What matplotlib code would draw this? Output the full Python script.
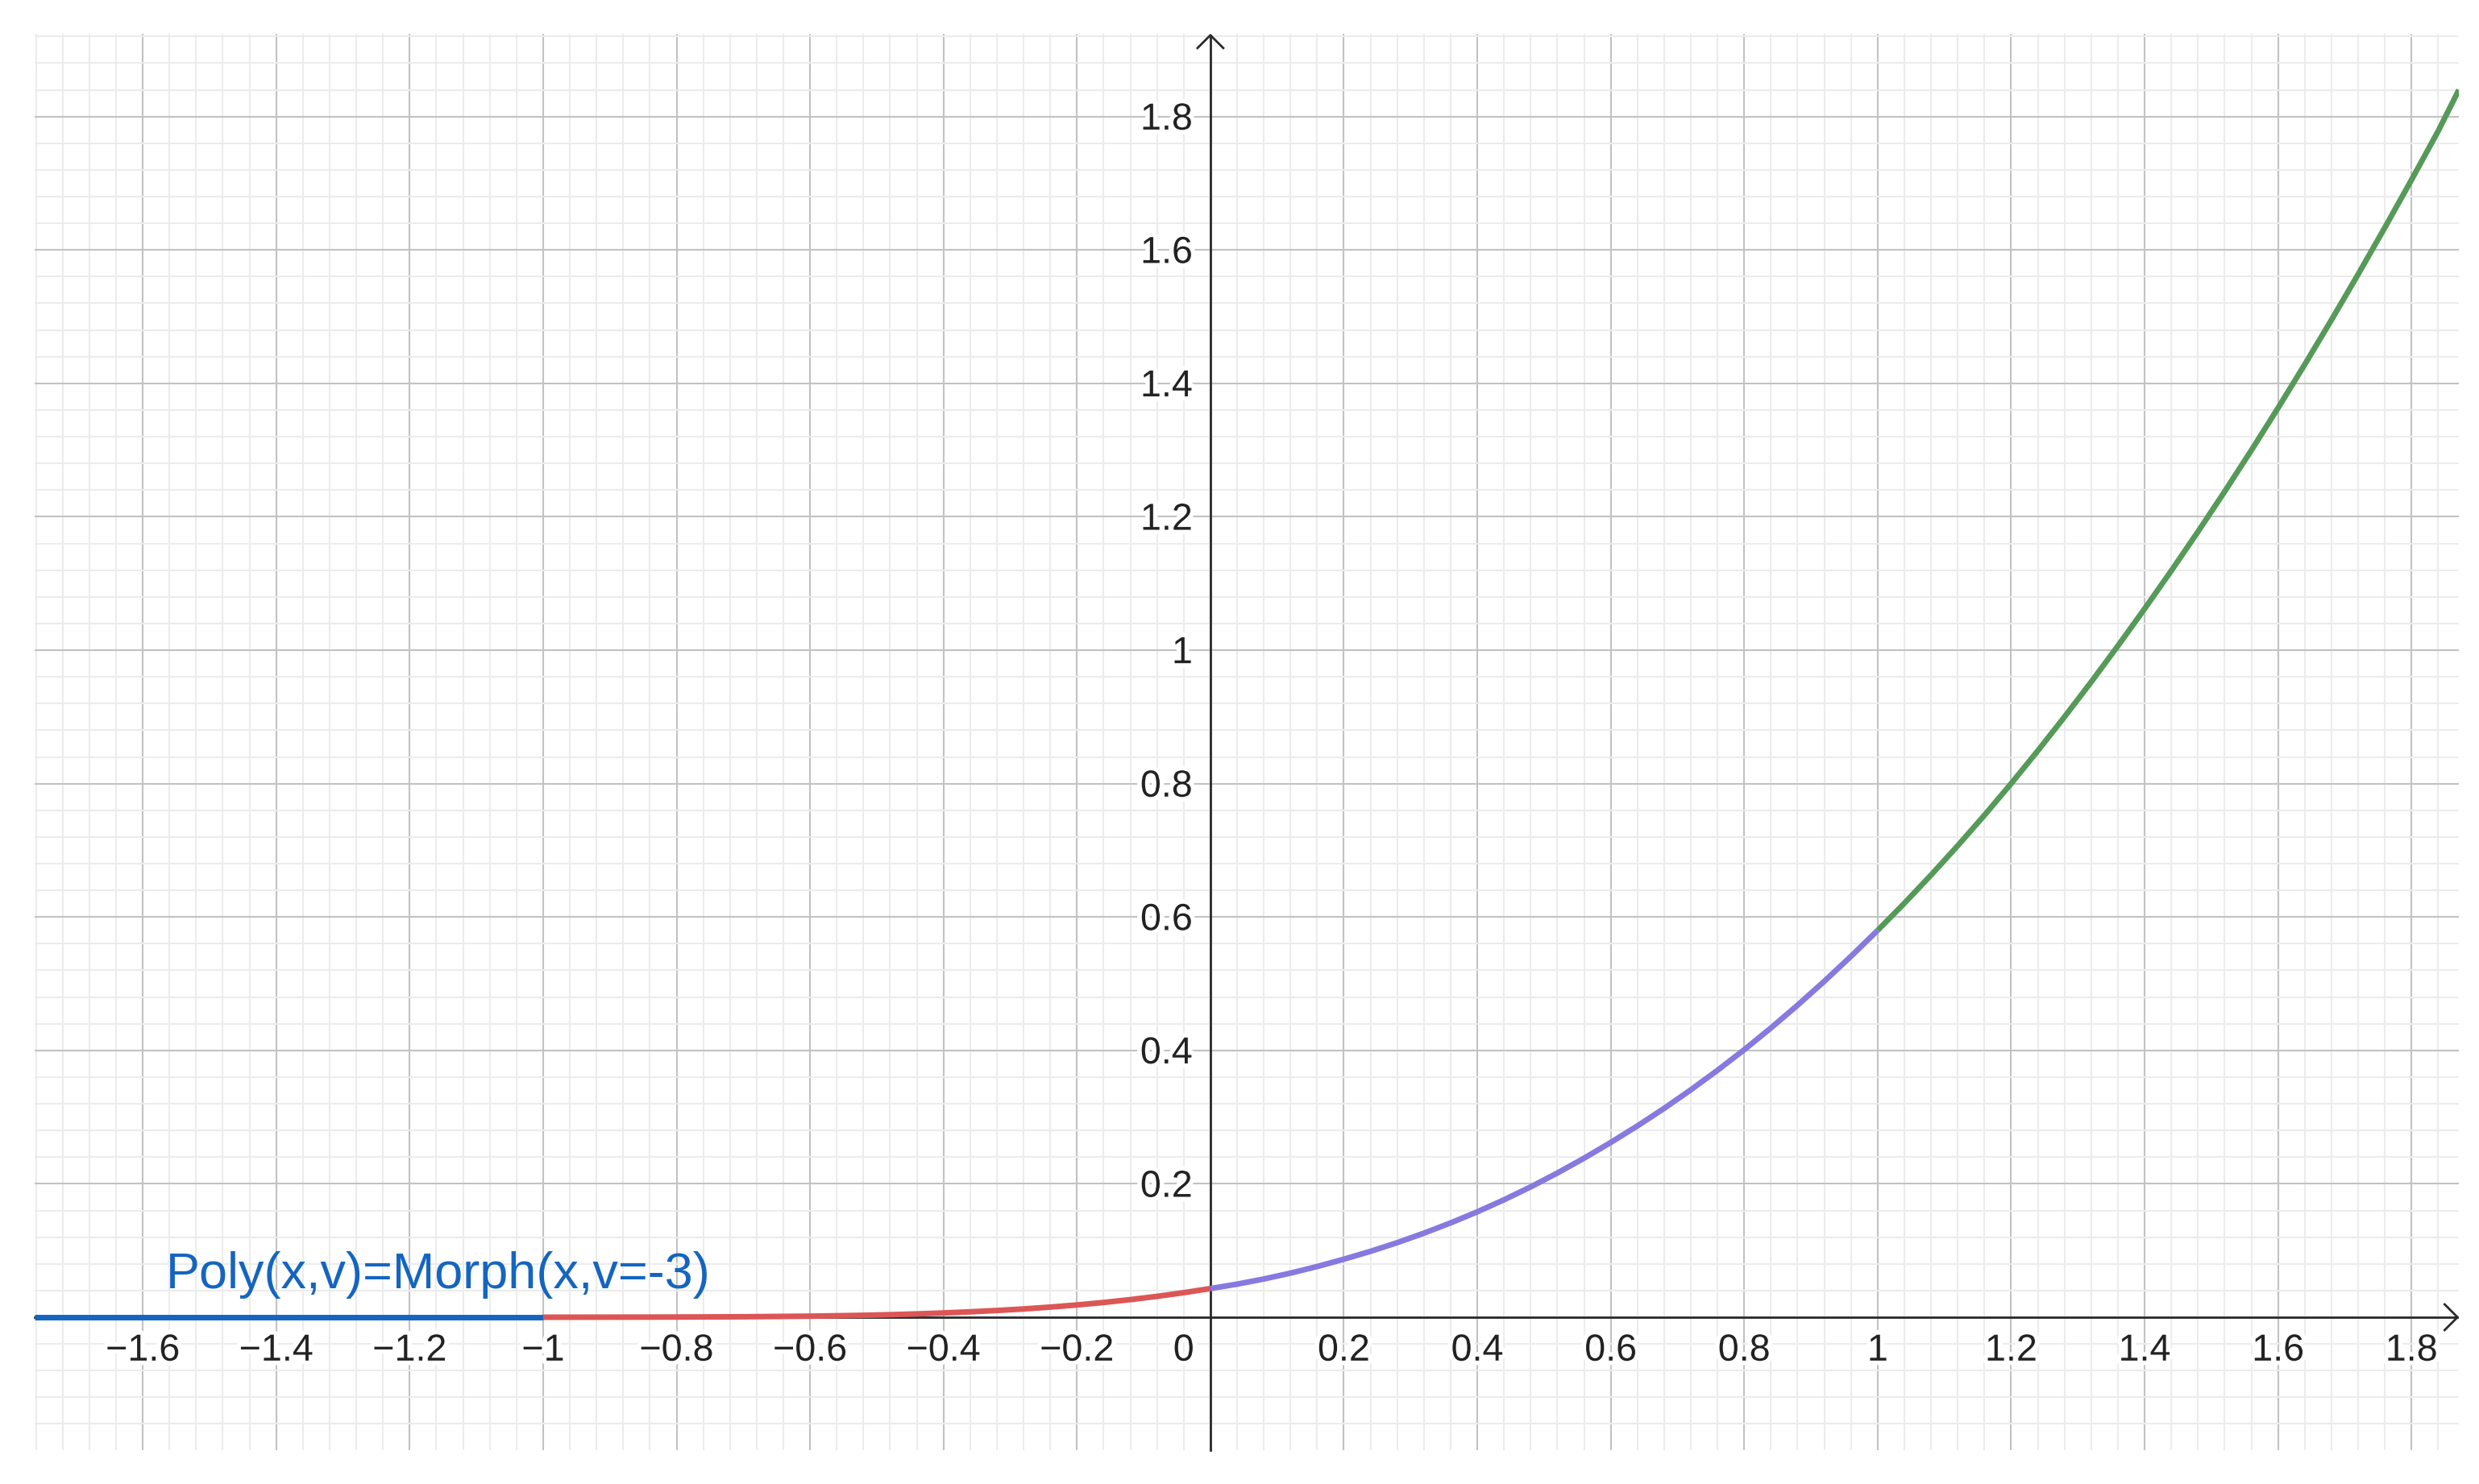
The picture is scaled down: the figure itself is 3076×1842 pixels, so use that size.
import numpy as np
import matplotlib
matplotlib.use('Agg')
import matplotlib.pyplot as plt
import matplotlib.patheffects as pe
from matplotlib.ticker import MultipleLocator

# values, piece by piece
blue_x = [-1.762, -1.0]
blue_y = [0.0, 0.0]

red_x = [-1.0, -0.9, -0.8, -0.7, -0.6, -0.56, -0.52, -0.48, -0.44, -0.40,
         -0.36, -0.32, -0.28, -0.24, -0.20, -0.16, -0.12, -0.08, -0.04, 0.0]
red_y = [0.0, 0.0001, 0.0003, 0.0007, 0.0016, 0.0022, 0.0029, 0.0038, 0.0050, 0.0064,
         0.0081, 0.0101, 0.0124, 0.0152, 0.0184, 0.0221, 0.0264, 0.0313, 0.0368, 0.043]

purple_x = [0.0, 0.04, 0.08, 0.12, 0.16, 0.20, 0.24, 0.28, 0.32, 0.36, 0.40, 0.44, 0.48,
            0.52, 0.56, 0.60, 0.64, 0.68, 0.72, 0.76, 0.80, 0.84, 0.88, 0.92, 0.96, 1.0]
purple_y = [0.043, 0.0496, 0.0573, 0.0661, 0.0760, 0.0870, 0.0988, 0.1118, 0.1260, 0.1414,
            0.1580, 0.1760, 0.1954, 0.2162, 0.2384, 0.2620, 0.2868, 0.3131, 0.3409, 0.3702,
            0.4010, 0.4336, 0.4678, 0.5036, 0.5410, 0.5800]

green_x = [1.0, 1.04, 1.08, 1.12, 1.16, 1.20, 1.24, 1.28, 1.32, 1.36, 1.40, 1.44, 1.48,
           1.52, 1.56, 1.60, 1.64, 1.68, 1.72, 1.76, 1.80, 1.84, 1.871]
green_y = [0.5800, 0.6206, 0.6629, 0.7069, 0.7526, 0.8000, 0.8492, 0.9000, 0.9524, 1.0064,
           1.0620, 1.1190, 1.1776, 1.2378, 1.2996, 1.3630, 1.4282, 1.4950, 1.5634, 1.6334,
           1.7050, 1.7782, 1.8400]

x_ticks = [-1.6, -1.4, -1.2, -1, -0.8, -0.6, -0.4, -0.2, 0.2, 0.4, 0.6, 0.8, 1, 1.2, 1.4, 1.6, 1.8]
y_ticks = [0.2, 0.4, 0.6, 0.8, 1, 1.2, 1.4, 1.6, 1.8]

label_text = 'Poly(x,v)=Morph(x,v=-3)'

xmin, xmax = -1.762, 1.871
ymin, ymax = -0.1993, 1.924

fig = plt.figure(figsize=(15.38, 9.21), dpi=200, facecolor='white')
ax = fig.add_axes([43 / 3076, 1 - 1800 / 1842, 3008 / 3076, 1758 / 1842])
ax.set_xlim(xmin, xmax)
ax.set_ylim(ymin, ymax)

for s in ax.spines.values():
    s.set_visible(False)
ax.tick_params(which='both', length=0, labelbottom=False, labelleft=False)

ax.xaxis.set_major_locator(MultipleLocator(0.2))
ax.yaxis.set_major_locator(MultipleLocator(0.2))
ax.xaxis.set_minor_locator(MultipleLocator(0.04))
ax.yaxis.set_minor_locator(MultipleLocator(0.04))
ax.grid(which='minor', color='#ececec', linewidth=0.75, zorder=0)
ax.grid(which='major', color='#c2c2c2', linewidth=0.75, zorder=0)
ax.set_axisbelow(True)

# axes with open arrow heads
axis_col = '#2a2a2a'
a = 16 / 828
ax.plot([xmin, xmax - 0.002], [0, 0], color=axis_col, lw=1.0, zorder=3, clip_on=False)
ax.plot([0, 0], [ymin, ymax - 0.002], color=axis_col, lw=1.0, zorder=3, clip_on=False)
ax.plot([xmax - 0.002 - a, xmax - 0.002, xmax - 0.002 - a], [a, 0, -a],
        color=axis_col, lw=1.0, zorder=3, clip_on=False)
ax.plot([-a, 0, a], [ymax - 0.002 - a, ymax - 0.002, ymax - 0.002 - a],
        color=axis_col, lw=1.0, zorder=3, clip_on=False)

# curve pieces
lw = 2.5
ax.plot(blue_x, blue_y, color='#1565c0', lw=lw, zorder=4, solid_capstyle='butt')
ax.plot(red_x, red_y, color='#dc5656', lw=lw, zorder=4, solid_capstyle='butt', solid_joinstyle='round')
ax.plot(purple_x, purple_y, color='#8679e0', lw=lw, zorder=4, solid_capstyle='butt', solid_joinstyle='round')
ax.plot(green_x, green_y, color='#559a58', lw=lw, zorder=4, solid_capstyle='butt', solid_joinstyle='round')

# tick labels like GeoGebra, next to the axes
halo = [pe.withStroke(linewidth=4, foreground='white')]
tfont = dict(family='Liberation Sans', size=16.8, color='#222222', path_effects=halo, zorder=5)
for t in x_ticks:
    s = ('%g' % t).replace('-', '\u2212')
    ax.text(t, -0.0505, s, ha='center', va='center', **tfont)
ax.text(-0.040, -0.0505, '0', ha='center', va='center', **tfont)
for t in y_ticks:
    ax.text(-0.0266, t - 0.005, '%g' % t, ha='right', va='center', **tfont)

ax.text(-1.565, 0.043, label_text, ha='left', va='baseline', family='Liberation Sans',
        size=22.7, color='#1565c0', zorder=6)

fig.savefig('out.png', dpi=200, facecolor='white')
